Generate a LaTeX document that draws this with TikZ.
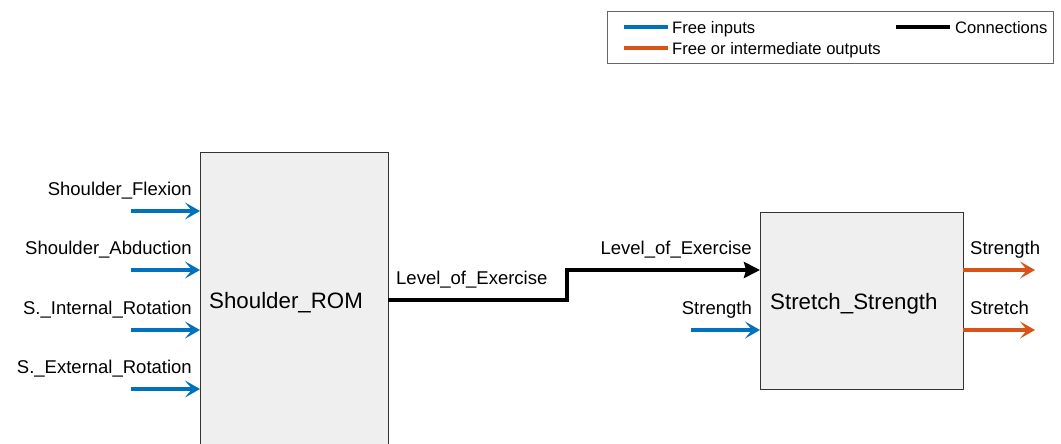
\documentclass[tikz,border=0pt]{standalone}
\usepackage{fontspec}
\setmainfont{Liberation Sans}
\usetikzlibrary{arrows.meta}
\definecolor{inblue}{HTML}{0072BD}
\definecolor{outorange}{HTML}{D95319}
\definecolor{boxfill}{HTML}{EFEFEF}
\definecolor{boxdraw}{HTML}{333333}
\tikzset{
  blk/.style={draw=boxdraw, fill=boxfill, line width=1pt, anchor=north west, inner sep=0pt},
  lbl/.style={font=\fontsize{18.5}{20}\selectfont, inner sep=0pt},
  blklbl/.style={font=\fontsize{22.3}{24}\selectfont, inner sep=0pt},
  leglbl/.style={font=\fontsize{16.6}{18}\selectfont, inner sep=0pt, anchor=base west},
  inarrow/.style={draw=inblue, line width=3.2pt, -{Stealth[length=15pt,width=17pt,inset=7pt]}},
  outarrow/.style={draw=outorange, line width=3.2pt, -{Stealth[length=15pt,width=17pt,inset=7pt]}},
  conarrow/.style={draw=black, line width=3.8pt, -{Stealth[length=16pt,width=16pt,inset=2pt]}},
}
\begin{document}
\begin{tikzpicture}[x=1pt,y=-1pt]
\useasboundingbox[fill=white] (0,0) rectangle (1061,444);
% legend
\node[draw=gray!80!black, line width=0.8pt, minimum width=446pt, minimum height=52pt, anchor=north west, inner sep=0pt] (legend) at (607,11) {};
\coordinate (lb1) at (624,27); \coordinate (lb2) at (668,27);
\coordinate (lo1) at (624,48); \coordinate (lo2) at (668,48);
\coordinate (lk1) at (896,27); \coordinate (lk2) at (950,27);
\draw[inblue, line width=3.2pt] (lb1) -- (lb2);
\draw[outorange, line width=3.2pt] (lo1) -- (lo2);
\draw[black, line width=3.8pt] (lk1) -- (lk2);
\node[leglbl] (tfi) at (672,33.5) {Free inputs};
\node[leglbl] (tfo) at (672,54.5) {Free or intermediate outputs};
\node[leglbl] (tcn) at (955,33.5) {Connections};
% blocks
\node[blk, minimum width=188pt, minimum height=310pt] (rom) at (200,152) {};
\node[blklbl, anchor=base west] (romt) at (209,308) {Shoulder\_ROM};
\node[blk, minimum width=203pt, minimum height=177pt] (ss) at (760,212) {};
\node[blklbl, anchor=base west] (sst) at (770,309) {Stretch\_Strength};
% inputs of Shoulder_ROM
\foreach \y/\t/\n in {211/Shoulder\_Flexion/a, 270/Shoulder\_Abduction/b, 330/S.\_Internal\_Rotation/c, 389/S.\_External\_Rotation/d}{
  \coordinate (s\n) at (131,\y);
  \coordinate (e\n) at (200,\y);
  \draw[inarrow] (s\n) -- (e\n);
  \node[lbl, anchor=base east] (l\n) at (192,\y-16) {\t};
}
% connection
\coordinate (c0) at (388,300);
\coordinate (c1) at (567,300);
\coordinate (c2) at (567,270);
\coordinate (c3) at (760,270);
\draw[conarrow] (c0) -- (c1) -- (c2) -- (c3);
\node[lbl, anchor=base west] (loe1) at (396,284) {Level\_of\_Exercise};
\node[lbl, anchor=base east] (loe2) at (752,254) {Level\_of\_Exercise};
% strength input
\coordinate (si0) at (691,330);
\coordinate (si1) at (760,330);
\draw[inarrow] (si0) -- (si1);
\node[lbl, anchor=base east] (sil) at (752,314) {Strength};
% outputs
\coordinate (o1a) at (963,270); \coordinate (o1b) at (1035,270);
\coordinate (o2a) at (963,330); \coordinate (o2b) at (1035,330);
\draw[outarrow] (o1a) -- (o1b);
\draw[outarrow] (o2a) -- (o2b);
\node[lbl, anchor=base west] (ol1) at (970,254) {Strength};
\node[lbl, anchor=base west] (ol2) at (970,314) {Stretch};
\end{tikzpicture}
\end{document}
